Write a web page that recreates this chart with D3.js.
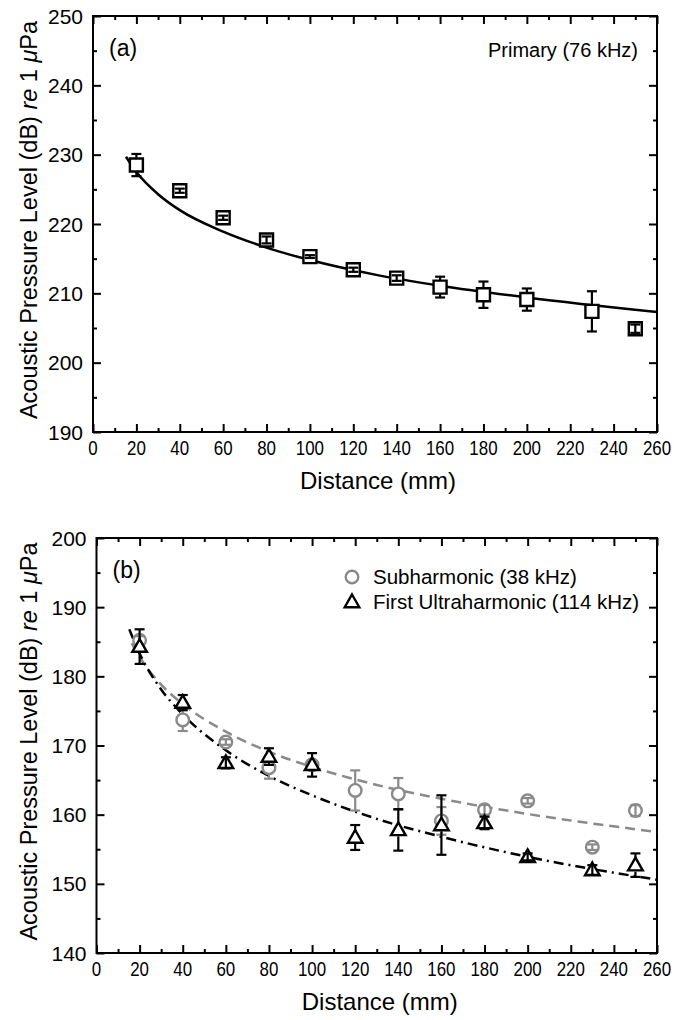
<!DOCTYPE html>
<html>
<head>
<meta charset="utf-8">
<script src="https://cdn.jsdelivr.net/npm/d3@7"></script>
<style>
  body { margin: 0; background: #fff; }
  text { font-family: "Liberation Sans", Arial, Helvetica, sans-serif; fill: #000; }
</style>
</head>
<body>
<svg id="chart" width="675" height="1020"></svg>
<script>
// Distances (mm) where measurements were taken
const distances = [20, 40, 60, 80, 100, 120, 140, 160, 180, 200, 230, 250];

// Panel (a): primary (76 kHz)
const primary    = [228.5, 224.8, 220.9, 217.7, 215.3, 213.4, 212.2, 210.9, 209.8, 209.1, 207.4, 204.9];
const primaryErr = [1.6, 0.3, 0.3, 0.5, 0.2, 0.3, 0.4, 1.5, 1.9, 1.6, 2.9, 0.6];

// Panel (b): subharmonic (38 kHz) and first ultraharmonic (114 kHz)
const subharm     = [185.2, 173.7, 170.5, 166.8, 167.2, 163.5, 163.0, 159.1, 160.7, 162.0, 155.3, 160.6];
const subharmErr  = [0.6, 1.6, 0.4, 1.6, 0.5, 2.9, 2.3, 2.0, 0.7, 0.4, 0.4, 0.8];
const ultraharm    = [184.3, 176.2, 167.5, 168.4, 167.2, 156.7, 157.8, 158.5, 158.8, 153.9, 152.0, 152.7];
const ultraharmErr = [2.5, 1.1, 0.8, 1.2, 1.7, 1.8, 3.0, 4.3, 0.9, 0.5, 0.7, 1.7];

// Fitted curves
const fitPrimaryX = [15.2, 20, 30, 40, 60, 80, 100, 130, 160, 200, 260];
const fitPrimaryY = [229.7, 227.5, 224.3, 222.0, 218.9, 216.6, 214.8, 212.7, 211.1, 209.4, 207.3];
const fitSubX = [16.3, 20, 30, 40, 60, 80, 100, 130, 160, 200, 260];
const fitSubY = [184.8, 182.8, 178.8, 176.0, 172.0, 169.1, 166.9, 164.3, 162.3, 160.1, 157.5];
const fitUltraX = [15.2, 20, 30, 40, 60, 80, 100, 130, 160, 200, 260];
const fitUltraY = [186.8, 183.3, 178.1, 174.5, 169.3, 165.6, 162.8, 159.4, 156.8, 153.9, 150.6];

const xMajor = d3.range(0, 261, 20);
const xMinor = d3.range(10, 260, 20);

const svg = d3.select("#chart");
const grey = "#8a8a8a";

function drawPanel(cfg) {
    const x = d3.scaleLinear().domain([0, 260]).range([cfg.left, cfg.right]);
    const y = d3.scaleLinear().domain(cfg.yDomain).range([cfg.bottom, cfg.top]);
    const yMajor = d3.range(cfg.yDomain[0], cfg.yDomain[1] + 1, 10);
    const yMinor = d3.range(cfg.yDomain[0] + 5, cfg.yDomain[1], 10);
    const g = svg.append("g");

    // ticks on all four sides, pointing inward
    function ticks(axis, vals, size, tr) {
        const a = g.append("g").attr("transform", tr)
            .call(axis.tickValues(vals).tickSize(size).tickFormat(""));
        a.select(".domain").remove();
        a.selectAll("line").attr("stroke-width", 2);
    }
    ticks(d3.axisBottom(x), xMajor, -8, `translate(0,${cfg.bottom})`);
    ticks(d3.axisBottom(x), xMinor, -4, `translate(0,${cfg.bottom})`);
    ticks(d3.axisTop(x), xMajor, -8, `translate(0,${cfg.top})`);
    ticks(d3.axisTop(x), xMinor, -4, `translate(0,${cfg.top})`);
    ticks(d3.axisLeft(y), yMajor, -8, `translate(${cfg.left},0)`);
    ticks(d3.axisLeft(y), yMinor, -4, `translate(${cfg.left},0)`);
    ticks(d3.axisRight(y), yMajor, -8, `translate(${cfg.right},0)`);
    ticks(d3.axisRight(y), yMinor, -4, `translate(${cfg.right},0)`);

    g.append("rect")
        .attr("x", cfg.left).attr("y", cfg.top)
        .attr("width", cfg.right - cfg.left).attr("height", cfg.bottom - cfg.top)
        .attr("fill", "none").attr("stroke", "#000").attr("stroke-width", 2);

    // tick labels
    g.selectAll(".xl").data(xMajor).enter().append("text")
        .attr("x", d => x(d)).attr("y", cfg.bottom + 23)
        .attr("text-anchor", "middle").style("font-size", "20px")
        .attr("textLength", d => String(d).length * 9.4)
        .attr("lengthAdjust", "spacingAndGlyphs")
        .text(d => d);
    g.selectAll(".yl").data(yMajor).enter().append("text")
        .attr("x", cfg.left - 10).attr("y", d => y(d) + 7.5)
        .attr("text-anchor", "end").style("font-size", "21px")
        .text(d => d);

    // axis titles
    g.append("text")
        .attr("x", (cfg.left + cfg.right) / 2 + 3).attr("y", cfg.bottom + 57)
        .attr("text-anchor", "middle").style("font-size", "24px")
        .text("Distance (mm)");
    const yt = g.append("text")
        .attr("transform", `translate(37,${(cfg.top + cfg.bottom) / 2 - 4}) rotate(-90)`)
        .attr("text-anchor", "middle").style("font-size", "23.5px");
    yt.append("tspan").text("Acoustic Pressure Level (dB) ");
    yt.append("tspan").style("font-style", "italic").text("re");
    yt.append("tspan").text(" 1 ");
    yt.append("tspan").style("font-style", "italic").text("\u03bc");
    yt.append("tspan").text("Pa");

    g.append("text")
        .attr("x", cfg.left + 16).attr("y", cfg.top + 40)
        .style("font-size", "23px").text(cfg.tag);

    return { g, x, y };
}

function fitLine(p, xs, ys, color, dash) {
    const line = d3.line().x(d => p.x(d[0])).y(d => p.y(d[1])).curve(d3.curveMonotoneX);
    p.g.append("path")
        .datum(d3.zip(xs, ys))
        .attr("d", line)
        .attr("fill", "none").attr("stroke", color)
        .attr("stroke-width", 2.5).attr("stroke-dasharray", dash);
}

function markerPath(shape) {
    if (shape === "square") return "M-6.5,-6.5H6.5V6.5H-6.5Z";
    if (shape === "circle") return "M6.3,0A6.3,6.3 0 1,1 -6.3,0A6.3,6.3 0 1,1 6.3,0Z";
    return "M0,-7.5L7.3,5.2L-7.3,5.2Z";
}

function series(p, vals, errs, shape, color) {
    const data = d3.zip(distances, vals, errs);
    const half = 6.5;
    const grp = p.g.append("g");
    data.forEach(d => {
        const cx = p.x(d[0]), cy = p.y(d[1]);
        const top = p.y(d[1] + d[2]), bot = p.y(d[1] - d[2]);
        const eg = grp.append("g").attr("stroke", color).attr("stroke-width", 2.2).attr("fill", "none");
        grp.append("path")
            .attr("transform", `translate(${cx},${cy})`)
            .attr("d", markerPath(shape))
            .attr("fill", "#fff").attr("stroke", color).attr("stroke-width", 2.4);
        const eg2 = grp.append("g").attr("stroke", color).attr("stroke-width", 2.2);
        if (cy - top > half) {
            eg.append("line").attr("x1", cx).attr("x2", cx).attr("y1", top).attr("y2", cy - half);
            eg.append("line").attr("x1", cx).attr("x2", cx).attr("y1", cy + half).attr("y2", bot);
        } else {
            eg2.append("line").attr("x1", cx).attr("x2", cx).attr("y1", top).attr("y2", bot);
        }
        eg2.append("line").attr("x1", cx - 5).attr("x2", cx + 5).attr("y1", top).attr("y2", top);
        eg2.append("line").attr("x1", cx - 5).attr("x2", cx + 5).attr("y1", bot).attr("y2", bot);
    });
}

// Panel (a)
const pa = drawPanel({ left: 93, right: 657, top: 16, bottom: 432, yDomain: [190, 250], tag: "(a)" });
fitLine(pa, fitPrimaryX, fitPrimaryY, "#000", null);
series(pa, primary, primaryErr, "square", "#000");
pa.g.append("text").attr("x", 638).attr("y", 57).attr("text-anchor", "end")
    .style("font-size", "20px").text("Primary (76 kHz)");

// Panel (b)
const pb = drawPanel({ left: 96.5, right: 657, top: 538, bottom: 953, yDomain: [140, 200], tag: "(b)" });
fitLine(pb, fitSubX, fitSubY, grey, "10,6");
fitLine(pb, fitUltraX, fitUltraY, "#000", "10,5,2,5");
series(pb, subharm, subharmErr, "circle", grey);
series(pb, ultraharm, ultraharmErr, "triangle", "#000");

// legend
const legend = [
    { label: "Subharmonic (38 kHz)", shape: "circle", color: grey, y: 577 },
    { label: "First Ultraharmonic (114 kHz)", shape: "triangle", color: "#000", y: 602 }
];
legend.forEach(l => {
    pb.g.append("path").attr("transform", `translate(352,${l.y})`)
        .attr("d", markerPath(l.shape)).attr("fill", "#fff")
        .attr("stroke", l.color).attr("stroke-width", 2.4);
    pb.g.append("text").attr("x", 373).attr("y", l.y + 7)
        .style("font-size", "20.5px").text(l.label);
});
</script>
</body>
</html>
